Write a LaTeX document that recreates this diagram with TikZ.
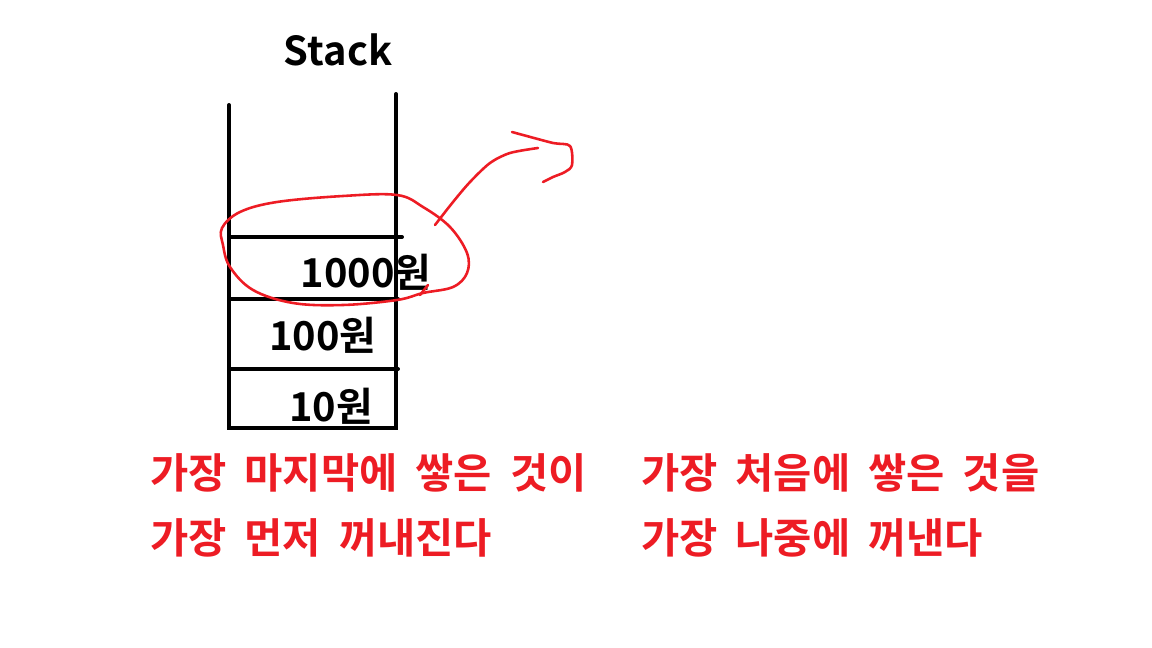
\documentclass[tikz,border=0pt]{standalone}
\usepackage{fontspec}
\usetikzlibrary{positioning}
\newfontfamily\kr{Noto Sans CJK KR}[BoldFont={Noto Sans CJK KR Bold}]
\newfontfamily\krnote{Noto Sans CJK KR}[BoldFont={Noto Sans CJK KR Bold}, WordSpace=1.9]
\definecolor{paintred}{RGB}{237,28,36}

\begin{document}
\begin{tikzpicture}[x=0.03cm, y=-0.03cm, wall/.style={line width=3.4pt, line cap=round}, scribble/.style={paintred, line width=2.2pt, line cap=round, line join=round}, label/.style={font=\kr\bfseries\fontsize{34}{40}\selectfont, inner sep=0pt}, note/.style={font=\krnote\bfseries\fontsize{35.5}{40}\selectfont, inner sep=0pt, text=paintred, anchor=west}]

    \useasboundingbox (0,0) rectangle (1152,648);

    % Stack
    \node[label] (title) at (338,50) {Stack};
    \coordinate (lefttop) at (229,105);
    \coordinate (righttop) at (396,94);
    \draw[wall] (lefttop) -- (229,428) -- (396,428) -- (righttop);
    \draw[wall] (229,237) -- (402,237);
    \draw[wall] (229,299) -- (398,299);
    \draw[wall] (229,369) -- (398,369);

    \node[label] (top) at (366,272) {1000원};
    \node[label] (middle) at (323,335) {100원};
    \node[label] (bottom) at (331,406) {10원};

    % Circle round the top item
    \draw[scribble] plot[smooth cycle, tension=0.6] coordinates {(222,228) (240,212) (277,202) (343,196) (397,195) (423,207) (450,227) (467,253) (467,273) (453,287) (423,293) (397,300) (343,305) (293,303) (253,290) (230,267) (223,245)};
    \draw[scribble] (428,285) -- (420,295);

    % Arrow out of the stack
    \coordinate (from) at (435,225);
    \draw[scribble] plot[smooth] coordinates {(from) (453,202) (470,182) (490,163) (510,153) (538,148)};
    \draw[scribble] plot[smooth, tension=0.5] coordinates {(512,132) (523,135) (553,143) (570,146) (572,165) (565,172) (553,177) (543,182)};

    % Notes
    \node[note] (lastin) at (150,473) {가장 마지막에 쌓은 것이};
    \node[note] (firstout) at (150,538) {가장 먼저 꺼내진다};
    \node[note] (firstin) at (641,473) {가장 처음에 쌓은 것을};
    \node[note] (lastout) at (641,538) {가장 나중에 꺼낸다};
\end{tikzpicture}
\end{document}
